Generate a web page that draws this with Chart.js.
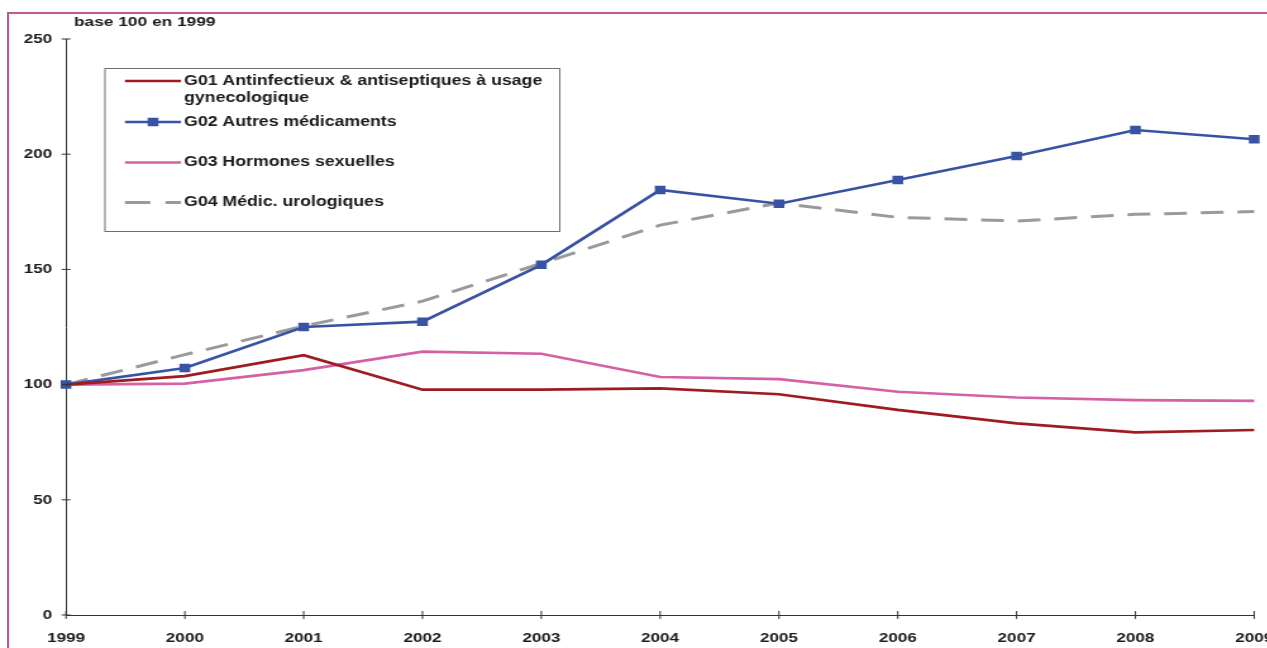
<!DOCTYPE html>
<html><head><meta charset="utf-8">
<script src="https://cdn.jsdelivr.net/npm/chart.js@4.4.1/dist/chart.umd.min.js"></script>
<style>
html,body{margin:0;padding:0;background:#fff;overflow:hidden;width:1267px;height:648px;}
#frame{position:absolute;left:7px;top:12px;width:1400px;height:800px;border-left:2px solid #c2598e;border-top:2px solid #c2598e;}
#c{position:absolute;left:0;top:0;transform:scaleX(1.265);transform-origin:0 0;}
</style></head>
<body>
<div id="frame"></div>
<canvas id="c" width="1022" height="648"></canvas>
<script>
const years = ['1999','2000','2001','2002','2003','2004','2005','2006','2007','2008','2009'];
const g01 = [100, 103.7, 112.8, 97.8, 97.8, 98.4, 95.8, 89.0, 83.2, 79.3, 80.3];
const g02 = [100, 107.2, 125.0, 127.3, 152.0, 184.5, 178.5, 188.8, 199.2, 210.5, 206.5];
const g03 = [100, 100.4, 106.3, 114.3, 113.4, 103.3, 102.4, 96.9, 94.4, 93.3, 92.9];
const g04 = [100, 113.0, 125.4, 136.2, 152.6, 169.2, 178.8, 172.6, 171.0, 173.9, 175.1];
const seriesNames = [
  ['G01 Antinfectieux & antiseptiques à usage', 'gynecologique'],
  ['G02 Autres médicaments'],
  ['G03 Hormones sexuelles'],
  ['G04 Médic. urologiques']
];
const yTitle = 'base 100 en 1999';
const yTicks = [0, 50, 100, 150, 200, 250];

const FONT = "'Liberation Sans', Arial, Helvetica, sans-serif";
const TXT = '#1d1a1b';

const crossTicks = {
  id: 'crossTicks',
  afterDraw(chart) {
    const {ctx, scales: {x, y}, chartArea: a} = chart;
    ctx.save();
    ctx.strokeStyle = '#333';
    ctx.lineWidth = 1;
    x.ticks.forEach((t, i) => {
      const px = x.getPixelForTick(i);
      ctx.beginPath(); ctx.moveTo(px, a.bottom - 4); ctx.lineTo(px, a.bottom + 4); ctx.stroke();
    });
    y.ticks.forEach((t, i) => {
      const py = y.getPixelForTick(i);
      ctx.beginPath(); ctx.moveTo(a.left - 3.5, py); ctx.lineTo(a.left + 3.5, py); ctx.stroke();
    });
    ctx.fillStyle = TXT;
    ctx.font = 'bold 13.7px ' + FONT;
    ctx.textAlign = 'left';
    ctx.textBaseline = 'middle';
    ctx.fillText(yTitle, 58.5, 22);
    ctx.restore();
  }
};

const boxLegend = {
  id: 'boxLegend',
  afterDraw(chart) {
    const ctx = chart.ctx;
    const bx = 83, by = 68.5, bw = 359.5, bh = 163;
    ctx.save();
    ctx.fillStyle = '#fff';
    ctx.fillRect(bx, by, bw, bh);
    ctx.strokeStyle = '#6d6e71';
    ctx.lineWidth = 1;
    ctx.strokeRect(bx, by, bw, bh);
    const rowsY = [81, 122, 162.5, 202.5];
    const x0 = 98.8, x1 = 143.1, tx = 145.5;
    chart.data.datasets.forEach((ds, i) => {
      const yy = rowsY[i];
      ctx.save();
      ctx.strokeStyle = ds.borderColor;
      ctx.lineWidth = ds.borderWidth;
      if (ds.borderDash) ctx.setLineDash([20, 12]);
      ctx.beginPath(); ctx.moveTo(x0, yy); ctx.lineTo(x1, yy); ctx.stroke();
      ctx.restore();
      if (ds.pointRadius > 0) {
        ctx.fillStyle = ds.pointBackgroundColor;
        const s = ds.pointRadius * Math.SQRT1_2;
        ctx.fillRect((x0 + x1) / 2 - s, yy - s, 2 * s, 2 * s);
      }
      ctx.fillStyle = TXT;
      ctx.font = 'bold 14px ' + FONT;
      ctx.textAlign = 'left';
      ctx.textBaseline = 'middle';
      seriesNames[i].forEach((line, k) => ctx.fillText(line, tx, yy + k * 17));
    });
    ctx.restore();
  }
};

new Chart(document.getElementById('c'), {
  type: 'line',
  data: {
    labels: years,
    datasets: [
      {label: seriesNames[0].join(' '), data: g01, borderColor: '#9e1b22', borderWidth: 2.7, pointRadius: 0, tension: 0},
      {label: seriesNames[1].join(' '), data: g02, borderColor: '#3853a4', borderWidth: 2.7, pointRadius: 6, pointStyle: 'rect', pointBackgroundColor: '#3853a4', pointBorderColor: '#3853a4', pointBorderWidth: 0, tension: 0},
      {label: seriesNames[2].join(' '), data: g03, borderColor: '#d460a6', borderWidth: 2.7, pointRadius: 0, tension: 0},
      {label: seriesNames[3].join(' '), data: g04, borderColor: '#999a9c', borderWidth: 3, borderDash: [18, 11], pointRadius: 0, tension: 0}
    ]
  },
  options: {
    responsive: false,
    animation: false,
    events: [],
    layout: {padding: {top: 39, right: 0, left: 0, bottom: 0}},
    plugins: {legend: {display: false}, tooltip: {enabled: false}, title: {display: false}},
    scales: {
      x: {
        offset: false,
        grid: {display: false, drawTicks: false},
        border: {display: true, color: '#333', width: 1},
        ticks: {color: TXT, font: {family: FONT, size: 13.5, weight: 'bold'}, padding: 15.5, maxRotation: 0, autoSkip: false},
        afterFit(s) { s.height = 33; }
      },
      y: {
        min: 0, max: 250,
        afterBuildTicks(s) { s.ticks = yTicks.map(v => ({value: v})); },
        grid: {display: false, drawTicks: false},
        border: {display: true, color: '#333', width: 1},
        ticks: {color: TXT, font: {family: FONT, size: 13.5, weight: 'bold'}, padding: 11},
        afterFit(s) { s.width = 52.2; }
      }
    }
  },
  plugins: [crossTicks, boxLegend]
});
</script>
</body></html>
